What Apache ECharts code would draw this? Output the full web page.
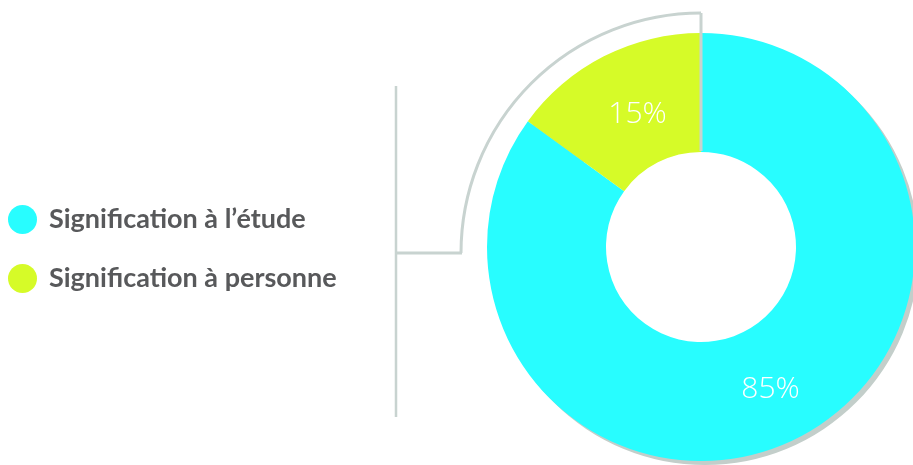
<!DOCTYPE html>
<html>
<head>
<meta charset="utf-8">
<script src="https://cdn.jsdelivr.net/npm/echarts@6/dist/echarts.min.js"></script>
<style>
	html,body{margin:0;padding:0;background:#fff;}
	#chart{width:913px;height:465px;}
</style>
</head>
<body>
<div id="chart"></div>
<script>
var categories = ['Signification à l’étude', 'Signification à personne'];
var values = [85, 15];
var colors = ['#28FDFF', '#D6FB28'];
var labelOffsets = [[-2, 2], [8, 8]];

var lineColor = '#c8d3d0';
var myChart = echarts.init(document.getElementById('chart'));

var pieData = categories.map(function(name, i){
	return {
		name: name,
		value: values[i],
		itemStyle: { color: colors[i] },
		label: { offset: labelOffsets[i] }
	};
});

var option = {
	animation: false,
	legend: {
		orient: 'vertical',
		left: 8,
		top: 205,
		padding: 0,
		itemWidth: 29,
		itemHeight: 29,
		itemGap: 30,
		icon: 'circle',
		data: categories,
		textStyle: {
			fontFamily: 'Lato',
			fontWeight: 'bold',
			fontSize: 27,
			color: '#58595b',
			padding: [0, 0, 0, 7]
		}
	},
	series: [
		{
			// shadow ring
			type: 'pie',
			silent: true,
			center: [705, 251],
			radius: [150, 214],
			z: 1,
			label: { show: false },
			labelLine: { show: false },
			itemStyle: { color: '#c3ceca' },
			data: [{ name: '', value: 1 }],
			legendHoverLink: false
		},
		{
			type: 'pie',
			center: [701, 247],
			radius: [95, 214],
			startAngle: 90,
			clockwise: true,
			z: 2,
			label: {
				show: true,
				position: 'inside',
				formatter: '{c}%',
				color: '#fff',
				fontFamily: 'Open Sans',
				fontWeight: 300,
				fontSize: 30
			},
			labelLine: { show: false },
			emphasis: { disabled: true },
			data: pieData
		}
	],
	graphic: [
		{ type: 'polyline', z: 100, shape: { points: [[396, 86], [396, 417]] }, style: { stroke: lineColor, lineWidth: 2.5, fill: null } },
		{ type: 'polyline', z: 100, shape: { points: [[396, 253], [462, 253]] }, style: { stroke: lineColor, lineWidth: 3, fill: null } },
		{ type: 'arc', z: 100, shape: { cx: 701, cy: 253, r: 240, startAngle: Math.PI, endAngle: Math.PI * 1.5, clockwise: true }, style: { stroke: lineColor, lineWidth: 3, fill: null } },
		{ type: 'polyline', z: 100, shape: { points: [[701, 13], [701, 151]] }, style: { stroke: lineColor, lineWidth: 3, fill: null } }
	]
};
myChart.setOption(option);
</script>
</body>
</html>
